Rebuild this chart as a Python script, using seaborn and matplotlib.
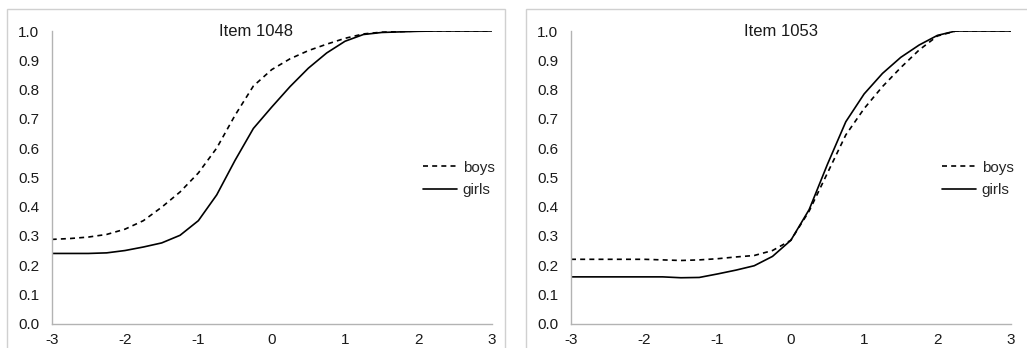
import matplotlib
matplotlib.use('Agg')
import matplotlib.pyplot as plt
import seaborn as sns
import pandas as pd
from matplotlib.patches import Rectangle

theta = [-3, -2.75, -2.5, -2.25, -2, -1.75, -1.5, -1.25, -1, -0.75, -0.5, -0.25,
         0, 0.25, 0.5, 0.75, 1, 1.25, 1.5, 1.75, 2, 2.25, 2.5, 2.75, 3]

boys_1048 = [0.288, 0.291, 0.296, 0.305, 0.323, 0.352, 0.398, 0.45, 0.515,
             0.60, 0.712, 0.812, 0.868, 0.905, 0.933, 0.955, 0.975, 0.99,
             0.996, 0.998, 1.0, 1.0, 1.0, 1.0, 1.0]
girls_1048 = [0.24, 0.24, 0.24, 0.242, 0.25, 0.262, 0.276, 0.302, 0.352,
              0.44, 0.558, 0.667, 0.74, 0.81, 0.873, 0.925, 0.965, 0.988,
              0.995, 0.997, 0.999, 1.0, 1.0, 1.0, 1.0]

boys_1053 = [0.22, 0.22, 0.22, 0.22, 0.22, 0.218, 0.216, 0.218, 0.222,
             0.228, 0.233, 0.25, 0.285, 0.385, 0.515, 0.645, 0.735, 0.81,
             0.875, 0.935, 0.983, 1.0, 1.0, 1.0, 1.0]
girls_1053 = [0.16, 0.16, 0.16, 0.16, 0.16, 0.16, 0.157, 0.158, 0.17,
              0.183, 0.198, 0.23, 0.285, 0.39, 0.545, 0.69, 0.785, 0.855,
              0.91, 0.952, 0.985, 1.0, 1.0, 1.0, 1.0]

items = ["Item 1048", "Item 1053"]
series = [(boys_1048, girls_1048), (boys_1053, girls_1053)]

sns.set_style("white")
plt.rcParams['font.family'] = ['Liberation Sans', 'DejaVu Sans']
plt.rcParams['font.size'] = 11
plt.rcParams['axes.unicode_minus'] = False

W, H = 1027, 348
fig = plt.figure(figsize=(W / 100, H / 100), dpi=100)

grey = '#b3b3b3'
# outer chart boxes (pixels)
boxes = [(7, 9, 498), (526, 9, 510)]
axes_px = [(51.7, 491.7), (571, 1010.7)]
y_top, y_bot = 31, 323.7

for i, (title, (boys, girls)) in enumerate(zip(items, series)):
    bx, by, bw = boxes[i]
    fig.patches.append(Rectangle((bx / W, 0 - 0.01), bw / W, (H - by) / H + 0.01,
                                 transform=fig.transFigure, fill=False,
                                 edgecolor='#d0d0d0', linewidth=1))
    x0, x1 = axes_px[i]
    ax = fig.add_axes([x0 / W, (H - y_bot) / H, (x1 - x0) / W, (y_bot - y_top) / H])
    ax.patch.set_alpha(0)

    df = pd.DataFrame({'theta': theta, 'boys': boys, 'girls': girls})
    sns.lineplot(data=df, x='theta', y='boys', ax=ax, color='black',
                 linewidth=1.2, linestyle=(0, (3, 2.5)), label='boys')
    sns.lineplot(data=df, x='theta', y='girls', ax=ax, color='black',
                 linewidth=1.2, label='girls')

    ax.set_xlim(-3, 3)
    ax.set_ylim(0, 1)
    ax.set_xticks(range(-3, 4))
    ax.set_yticks([k / 10 for k in range(11)])
    ax.set_yticklabels([f"{k / 10:.1f}" for k in range(11)])
    ax.set_xlabel('')
    ax.set_ylabel('')
    for s in ['top', 'right']:
        ax.spines[s].set_visible(False)
    for s in ['left', 'bottom']:
        ax.spines[s].set_color(grey)
        ax.spines[s].set_linewidth(1)
    ax.tick_params(axis='both', direction='out', length=4, width=1, color=grey,
                   labelsize=11, labelcolor='#1a1a1a')
    ax.tick_params(axis='y', pad=5)
    ax.tick_params(axis='x', pad=3)

    ax.legend(loc='center left', bbox_to_anchor=(0.844, 0.494), frameon=False,
              borderpad=0, borderaxespad=0, handlelength=2.2,
              handletextpad=0.4, labelspacing=0.57, fontsize=11)

    fig.text((bx + bw / 2) / W, (H - 31) / H, title, ha='center', va='center',
             fontsize=12, color='#1a1a1a')

fig.savefig('out.png', dpi=100)
